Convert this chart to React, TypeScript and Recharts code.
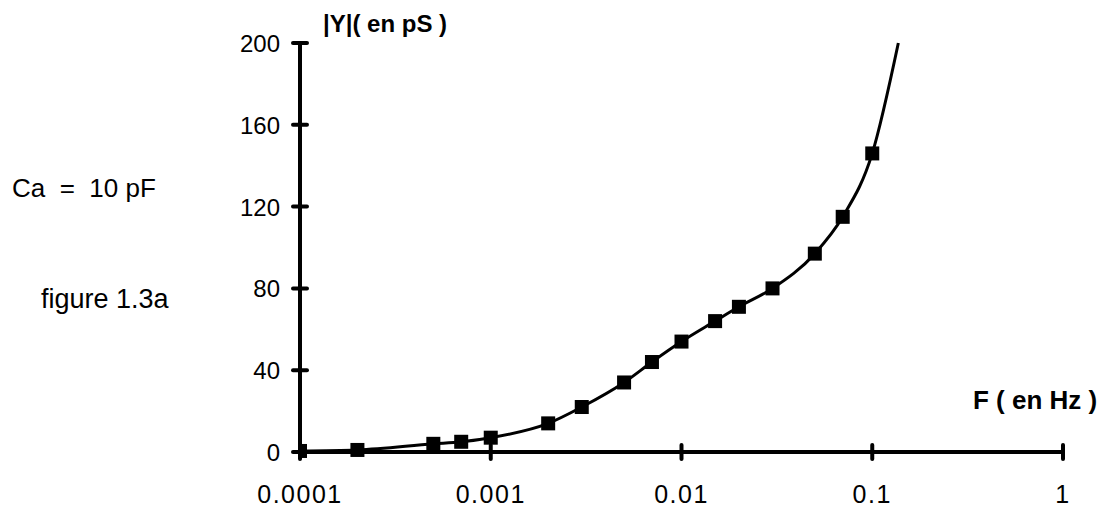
import { LineChart, Line, XAxis, YAxis } from "recharts";

// frequency (Hz) and |Y| (pS)
const freqs = [0.0001, 0.0002, 0.0005, 0.0007, 0.001, 0.002, 0.003, 0.005, 0.007, 0.01, 0.015, 0.02, 0.03, 0.05, 0.07, 0.1, 0.137];
const admittance = [0.5, 1, 4, 5, 7, 14, 22, 34, 44, 54, 64, 71, 80, 97, 115, 146, 200];
// last point only continues the curve, no marker
const measured = [true, true, true, true, true, true, true, true, true, true, true, true, true, true, true, true, false];

const xTicks = [0.0001, 0.001, 0.01, 0.1, 1];
const xTickLabels = ["0.0001", "0.001", "0.01", "0.1", "1"];
const yTicks = [0, 40, 80, 120, 160, 200];

const yLabel = "|Y|( en pS )";
const xLabel = "F ( en Hz )";
const note = "Ca  =  10 pF";
const caption = "figure 1.3a";

const data = freqs.map((f, i) => ({ f, y: admittance[i], m: measured[i] }));

const FONT = "'Liberation Sans', Arial, sans-serif";

const XTick = (props: any) => {
  const { x, y, payload } = props;
  const i = xTicks.indexOf(payload.value);
  return (
    <g>
      <line x1={x} x2={x} y1={y - 7} y2={y + 7} stroke="#000" strokeWidth={4} strokeLinecap="round" />
      <text x={x} y={y + 51} textAnchor="middle" fontSize={25} letterSpacing={1.5} fontFamily={FONT} fill="#000">
        {i >= 0 ? xTickLabels[i] : payload.value}
      </text>
    </g>
  );
};

const YTick = (props: any) => {
  const { x, y, payload } = props;
  return (
    <g>
      <line x1={x - 7} x2={x + 7} y1={y} y2={y} stroke="#000" strokeWidth={4} strokeLinecap="round" />
      <text x={x - 20} y={y + 9} textAnchor="end" fontSize={24} fontFamily={FONT} fill="#000">
        {payload.value}
      </text>
    </g>
  );
};

const Marker = (props: any) => {
  const { cx, cy, payload, index } = props;
  if (!payload.m) return <g key={index} />;
  return <rect key={index} x={cx - 7} y={cy - 7} width={14} height={14} fill="#000" />;
};

export default function App() {
  return (
    <div style={{ position: "absolute", left: 0, top: 0, width: 1107, height: 507, background: "#fff" }}>
      <LineChart width={1107} height={507} data={data} margin={{ top: 43, right: 44, bottom: 0, left: 240 }}>
        <XAxis
          dataKey="f"
          type="number"
          scale="log"
          domain={[0.0001, 1]}
          ticks={xTicks}
          allowDataOverflow
          height={55}
          tickSize={0}
          tickMargin={0}
          tickLine={false}
          axisLine={{ stroke: "#000", strokeWidth: 4 }}
          tick={<XTick />}
        />
        <YAxis
          type="number"
          domain={[0, 200]}
          ticks={yTicks}
          width={60}
          tickSize={0}
          tickMargin={0}
          tickLine={false}
          axisLine={{ stroke: "#000", strokeWidth: 4 }}
          tick={<YTick />}
        />
        <Line
          type="monotone"
          dataKey="y"
          stroke="#000"
          strokeWidth={3}
          dot={Marker}
          activeDot={false}
          isAnimationActive={false}
        />
      </LineChart>
      <svg width={1107} height={507} style={{ position: "absolute", left: 0, top: 0, pointerEvents: "none" }}>
        <text x={323} y={32} fontSize={24} fontWeight="bold" fontFamily={FONT}>{yLabel}</text>
        <text x={973} y={409} fontSize={26} fontWeight="bold" fontFamily={FONT}>{xLabel}</text>
        <text x={12} y={197} fontSize={26} fontFamily={FONT} style={{ whiteSpace: "pre" }}>{note}</text>
        <text x={41} y={308} fontSize={27} fontFamily={FONT}>{caption}</text>
      </svg>
    </div>
  );
}
